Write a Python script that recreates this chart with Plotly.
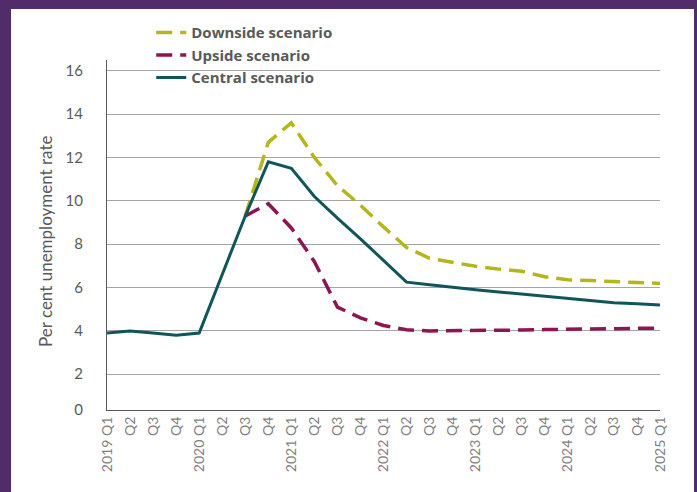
import plotly.graph_objects as go

# Quarterly categories, 2019 Q1 to 2025 Q1
quarters = [
    "2019 Q1", "Q2", "Q3", "Q4",
    "2020 Q1", "Q2", "Q3", "Q4",
    "2021 Q1", "Q2", "Q3", "Q4",
    "2022 Q1", "Q2", "Q3", "Q4",
    "2023 Q1", "Q2", "Q3", "Q4",
    "2024 Q1", "Q2", "Q3", "Q4",
    "2025 Q1",
]

# Unemployment rate, per cent
central = [3.9, 4.0, 3.9, 3.8, 3.9, 6.6, 9.3, 11.8, 11.5, 10.2, 9.2, 8.25,
           7.25, 6.25, 6.13, 6.0, 5.9, 5.8, 5.7, 5.6, 5.5, 5.4, 5.3, 5.25, 5.2]
downside = [None, None, None, None, None, None, 9.3, 12.7, 13.6, 12.0, 10.7, 9.8,
            8.8, 7.85, 7.35, 7.15, 6.98, 6.85, 6.75, 6.5, 6.36, 6.32, 6.28, 6.23, 6.19]
upside = [None, None, None, None, None, None, 9.3, 9.87, 8.75, 7.2, 5.1, 4.6,
          4.25, 4.05, 4.0, 4.0, 4.01, 4.02, 4.04, 4.06, 4.07, 4.08, 4.1, 4.11, 4.13]

y_ticks = [2, 4, 6, 8, 10, 12, 14, 16]
Y_MIN, Y_MAX = 0.35, 16.5

x = list(range(len(quarters)))

TEAL = "#0F5559"
OLIVE = "#B5B51C"
MAROON = "#8E1552"
FRAME = "#522B6B"
TEXT = "#595959"

fig = go.Figure()
fig.add_trace(go.Scatter(x=x, y=downside, name="Downside scenario", mode="lines",
                         line=dict(color=OLIVE, width=3.5, dash="16px,8px")))
fig.add_trace(go.Scatter(x=x, y=upside, name="Upside scenario", mode="lines",
                         line=dict(color=MAROON, width=3.5, dash="16px,8px")))
fig.add_trace(go.Scatter(x=x, y=central, name="Central scenario", mode="lines",
                         line=dict(color=TEAL, width=3)))

fig.update_xaxes(
    range=[0, len(quarters) - 1],
    tickvals=x, ticktext=quarters, tickangle=-90,
    tickfont=dict(family="Lato", size=14, color="#7F7F7F"),
    showgrid=False, zeroline=False,
    showline=True, linecolor=TEXT, linewidth=1.3, ticks="",
)
fig.update_yaxes(
    range=[Y_MIN, Y_MAX],
    tickvals=[Y_MIN] + y_ticks, ticktext=["0"] + [str(v) for v in y_ticks],
    tickfont=dict(family="Lato", size=15, color=TEXT),
    ticklabelstandoff=20,
    showgrid=True, gridcolor="#A6A6A6", gridwidth=1, zeroline=False,
    showline=True, linecolor=TEXT, linewidth=1.3, ticks="",
)

# Purple frame around the chart
frame = [
    dict(x0=-0.3, x1=(11 - 107) / 553, y0=-0.4, y1=1.4),
    dict(x0=-0.3, x1=1.3, y0=(410 - 9) / 350, y1=1.4),
    dict(x0=(694 - 107) / 553, x1=1.3, y0=-0.4, y1=1.4),
]
for r in frame:
    fig.add_shape(type="rect", xref="paper", yref="paper", line_width=0,
                  fillcolor=FRAME, layer="above", **r)

fig.add_annotation(
    text="Per cent unemployment rate", textangle=-90,
    xref="paper", yref="paper", x=(45 - 107) / 553, y=(410 - 242) / 350,
    xanchor="center", yanchor="middle",
    showarrow=False, font=dict(family="Lato", size=17, color=TEXT),
)

fig.update_layout(
    width=697, height=492,
    margin=dict(l=107, r=37, t=60, b=82),
    paper_bgcolor="white", plot_bgcolor="white",
    showlegend=True,
    legend=dict(
        x=0.08, y=1.125, xanchor="left", yanchor="top",
        bgcolor="rgba(0,0,0,0)",
        font=dict(family="Open Sans", size=15, color=TEXT, weight="bold"),
        traceorder="normal",
    ),
)

fig.write_html("out.html")
